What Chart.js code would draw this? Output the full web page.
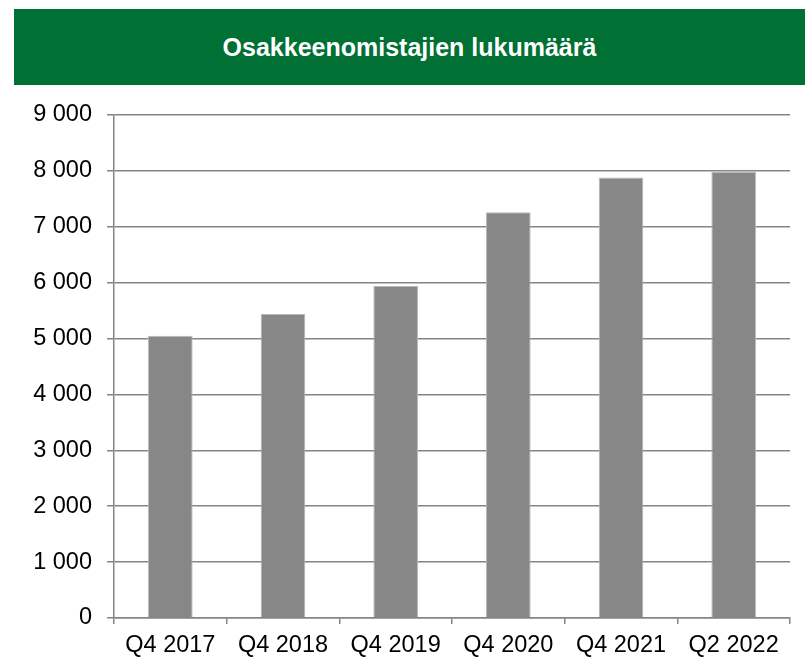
<!DOCTYPE html>
<html>
<head>
<meta charset="utf-8">
<script src="https://cdn.jsdelivr.net/npm/chart.js@4"></script>
<style>
    html, body { margin: 0; padding: 0; background: #fff; }
    #wrap { position: relative; width: 805px; height: 672px; }
    #banner {
        position: absolute; left: 14px; top: 9px; width: 791px; height: 76px;
        background: #007034; color: #fff;
        font: bold 25px "Liberation Sans", Arial, sans-serif;
        display: flex; align-items: center; justify-content: center;
    }
    canvas { position: absolute; left: 0; top: 0; }
</style>
</head>
<body>
<div id="wrap">
    <div id="banner">Osakkeenomistajien lukumäärä</div>
    <canvas id="chart" width="805" height="672"></canvas>
</div>
<script>
// ── Data ──
const quarters = ["Q4 2017", "Q4 2018", "Q4 2019", "Q4 2020", "Q4 2021", "Q2 2022"];
const owners   = [5050, 5440, 5940, 7260, 7880, 7980];
const yTicks   = [0, 1000, 2000, 3000, 4000, 5000, 6000, 7000, 8000, 9000];

// ── Styling ──
const FONT = { family: "'Liberation Sans', Arial, sans-serif", size: 23.5 };
const GRID = "#858585";

// thousands with a space: 9000 -> "9 000"
const fmt = v => String(v).replace(/\B(?=(\d{3})+(?!\d))/g, " ");

new Chart(document.getElementById("chart"), {
    type: "bar",
    data: {
        labels: quarters,
        datasets: [{
            data: owners,
            backgroundColor: "#878787",
            borderColor: "#b8b8b8",
            borderWidth: 1,
            categoryPercentage: 1,
            barPercentage: 0.396,
        }],
    },
    options: {
        responsive: false,
        animation: false,
        layout: { padding: { top: 115, right: 15, left: 0, bottom: 0 } },
        plugins: { legend: { display: false }, tooltip: { enabled: false } },
        scales: {
            x: {
                grid: { drawOnChartArea: false, color: GRID, lineWidth: 1.5, tickLength: 6 },
                border: { color: GRID, width: 1.5 },
                ticks: { color: "#000", font: FONT, padding: 7, maxRotation: 0 },
                afterFit: s => { s.height = 54; },
            },
            y: {
                min: 0,
                max: 9000,
                afterBuildTicks: s => { s.ticks = yTicks.map(v => ({ value: v })); },
                grid: { color: GRID, lineWidth: 1.5, tickLength: 7 },
                border: { color: GRID, width: 1.5 },
                ticks: { color: "#000", font: FONT, padding: 15, callback: v => fmt(v) },
                afterFit: s => { s.width = 114; },
            },
        },
    },
});
</script>
</body>
</html>
